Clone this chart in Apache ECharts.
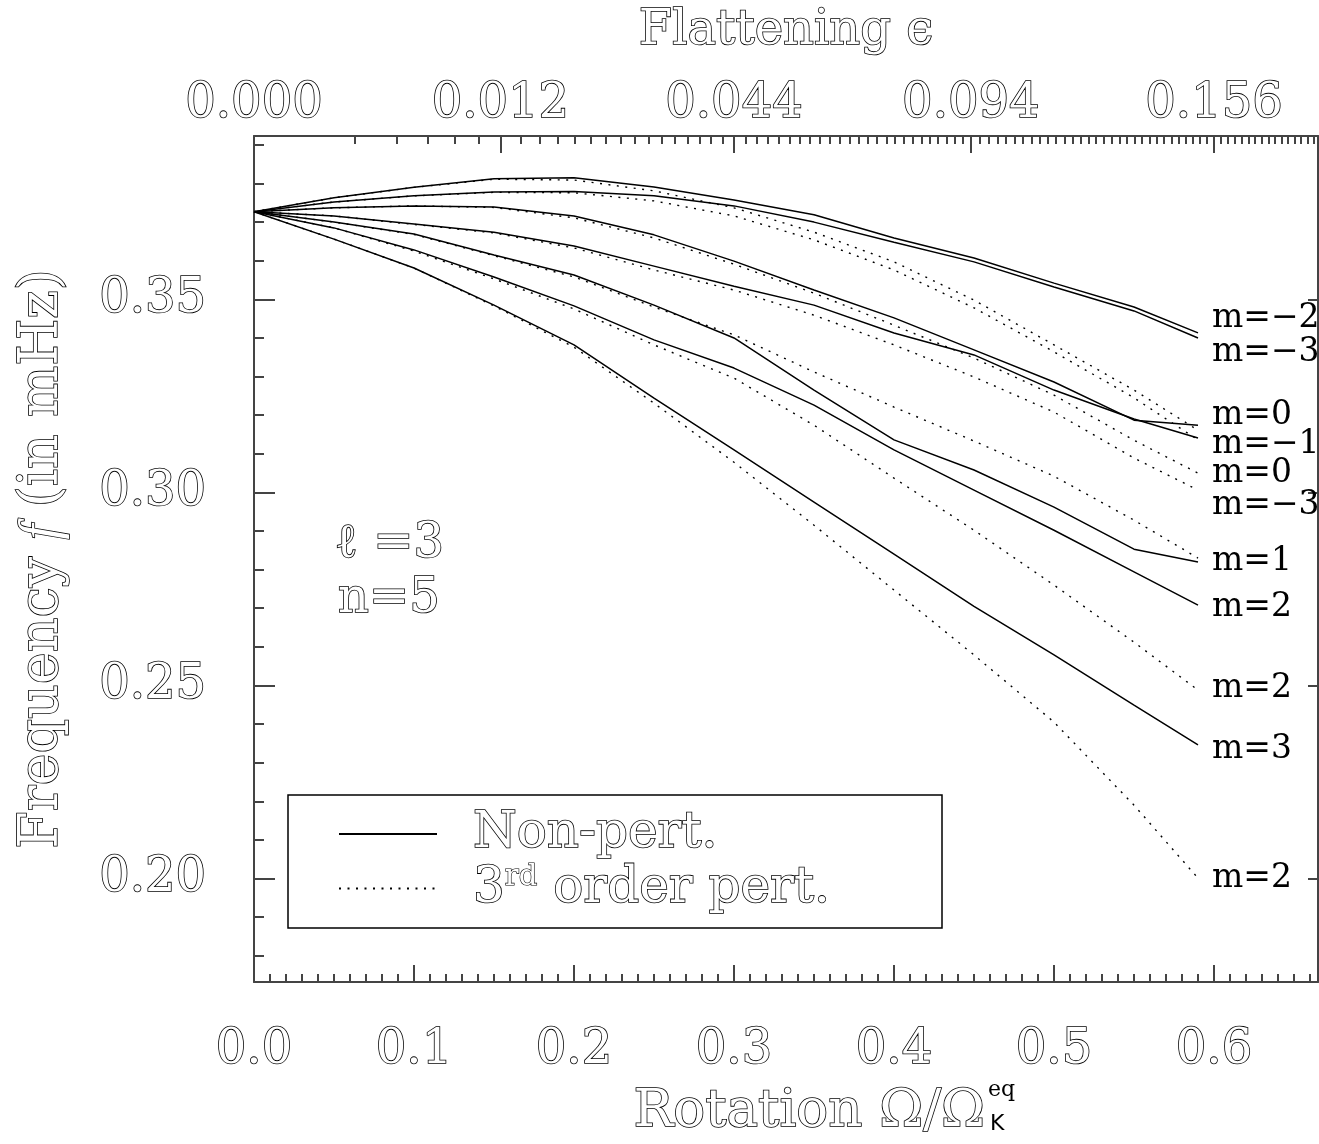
<!DOCTYPE html>
<html>
<head>
<meta charset="utf-8">
<title>Frequency vs rotation, l=3 n=5</title>
<script src="https://cdn.jsdelivr.net/npm/echarts@6/dist/echarts.min.js"></script>
<style>
  html, body { margin: 0; padding: 0; background: #fff; }
  #chart { width: 1319px; height: 1144px; }
</style>
</head>
<body>
<div id="chart"></div>
<script>
// Rotation rate Omega / Omega_K^eq at which the mode frequencies were computed
const rotation = [0, 0.05, 0.10, 0.15, 0.20, 0.25, 0.30, 0.35, 0.40, 0.45, 0.50, 0.55, 0.59];

// Non-perturbative frequencies (mHz)
const nonPert_mMinus2 = [0.3727, 0.3763, 0.3790, 0.3812, 0.3815, 0.3791, 0.3757, 0.3719, 0.3659, 0.3607, 0.3542, 0.3480, 0.3413];
const nonPert_mMinus3 = [0.3727, 0.3752, 0.3768, 0.3778, 0.3779, 0.3768, 0.3742, 0.3700, 0.3648, 0.3597, 0.3532, 0.3470, 0.3400];
const nonPert_m0      = [0.3727, 0.3737, 0.3742, 0.3739, 0.3716, 0.3667, 0.3599, 0.3524, 0.3452, 0.3369, 0.3286, 0.3187, 0.3174];
const nonPert_mMinus1 = [0.3727, 0.3716, 0.3695, 0.3674, 0.3638, 0.3586, 0.3534, 0.3485, 0.3413, 0.3356, 0.3265, 0.3190, 0.3141];
const nonPert_m1      = [0.3727, 0.3700, 0.3669, 0.3615, 0.3563, 0.3485, 0.3400, 0.3265, 0.3136, 0.3058, 0.2962, 0.2853, 0.2820];
const nonPert_m2      = [0.3727, 0.3685, 0.3628, 0.3558, 0.3483, 0.3395, 0.3322, 0.3226, 0.3110, 0.3006, 0.2902, 0.2794, 0.2708];
const nonPert_m3      = [0.3727, 0.3656, 0.3581, 0.3485, 0.3382, 0.3244, 0.3110, 0.2975, 0.2840, 0.2705, 0.2579, 0.2449, 0.2346];

// Third-order perturbative frequencies (mHz)
const pert_a = [0.3727, 0.3763, 0.3790, 0.3811, 0.3809, 0.3781, 0.3737, 0.3674, 0.3597, 0.3498, 0.3382, 0.3265, 0.3161];
const pert_b = [0.3727, 0.3752, 0.3768, 0.3777, 0.3776, 0.3755, 0.3716, 0.3654, 0.3576, 0.3478, 0.3364, 0.3245, 0.3136];
const pert_c = [0.3727, 0.3737, 0.3742, 0.3738, 0.3711, 0.3659, 0.3591, 0.3516, 0.3433, 0.3348, 0.3252, 0.3135, 0.3050];
const pert_d = [0.3727, 0.3716, 0.3694, 0.3672, 0.3633, 0.3576, 0.3524, 0.3459, 0.3382, 0.3299, 0.3208, 0.3089, 0.3006];
const pert_e = [0.3727, 0.3700, 0.3668, 0.3613, 0.3558, 0.3480, 0.3408, 0.3312, 0.3221, 0.3133, 0.3042, 0.2928, 0.2830];
const pert_f = [0.3727, 0.3685, 0.3625, 0.3553, 0.3475, 0.3382, 0.3296, 0.3174, 0.3037, 0.2902, 0.2760, 0.2612, 0.2488];
const pert_g = [0.3727, 0.3656, 0.3581, 0.3483, 0.3376, 0.3231, 0.3078, 0.2915, 0.2747, 0.2579, 0.2405, 0.2190, 0.2001];

// Axis ticks and labels
const rotMajorTicks = [0, 0.1, 0.2, 0.3, 0.4, 0.5, 0.6];
const freqMajorTicks = [0.20, 0.25, 0.30, 0.35];
const flatLabels = ['0.000', '0.012', '0.044', '0.094', '0.156'];
const flatLabelRotation = [0, 0.154, 0.300, 0.448, 0.600];
const flatMinorStep = 0.002;

const X_MAX = 0.665, Y_MIN = 0.1732, Y_MAX = 0.3923;

const rotMinorTicks = [];
for (let k = 0; k <= 66; k++) rotMinorTicks.push(+(k / 100).toFixed(2));
const freqMinorTicks = [];
for (let k = 18; k <= 39; k++) freqMinorTicks.push(+(k / 100).toFixed(2));

// flattening -> rotation, piecewise linear in sqrt(eps) through the labelled pairs
const flatValues = flatLabels.map(Number);
function flatToRotation(eps) {
  const s = Math.sqrt(eps);
  const sq = flatValues.map(Math.sqrt);
  let i = 0;
  while (i < sq.length - 2 && s > sq[i + 1]) i++;
  const t = (s - sq[i]) / (sq[i + 1] - sq[i]);
  return flatLabelRotation[i] + t * (flatLabelRotation[i + 1] - flatLabelRotation[i]);
}
const flatMinorTicks = [];
for (let k = 1; k <= 120; k++) {
  const r = flatToRotation(k * flatMinorStep);
  if (r <= X_MAX) flatMinorTicks.push(r);
}

const SERIF = 'DejaVu Serif';
const hollow = { fontFamily: SERIF, color: '#fff', textBorderColor: '#000', textBorderWidth: 1.6 };
const hollowG = { fill: '#fff', stroke: '#000', lineWidth: 1.6 };
const axisLineStyle = { color: '#444', width: 2 };
const tickStyle = { color: '#444', width: 2 };

const pairs = arr => rotation.map((r, i) => [r, arr[i]]);

function curveLabel(label, offset) {
  return label ? {
    show: true, formatter: label, offset: offset, distance: 14,
    fontFamily: SERIF, fontSize: 33, color: '#000'
  } : { show: false };
}
function solid(data, label, offset) {
  return {
    type: 'line', name: 'Non-pert.', data: pairs(data), symbol: 'none',
    itemStyle: { color: '#000' },
    lineStyle: { color: '#000', width: 1.5, type: 'solid' },
    endLabel: curveLabel(label, offset),
    silent: true, z: 3
  };
}
function dotted(data, label, offset) {
  return {
    type: 'line', name: '3rd order pert.', data: pairs(data), symbol: 'none',
    itemStyle: { color: '#000' },
    lineStyle: { color: '#000', width: 1.4, type: [2, 6.5] },
    endLabel: curveLabel(label, offset),
    silent: true, z: 2
  };
}

const baseAxis = {
  type: 'value', min: 0, max: X_MAX,
  splitLine: { show: false },
  axisLine: { show: true, onZero: false, lineStyle: axisLineStyle }
};

const option = {
  animation: false,
  backgroundColor: '#fff',
  grid: { left: 254, top: 136, width: 1064, height: 846, containLabel: false, outerBoundsMode: 'none' },
  legend: {
    data: ['Non-pert.', '3rd order pert.'],
    orient: 'vertical', left: 338, top: 808, padding: 0,
    itemWidth: 98, itemHeight: 14, itemGap: 2,
    selectedMode: false,
    itemStyle: { color: 'rgba(0,0,0,0)', borderWidth: 0, opacity: 0 },
    textStyle: Object.assign({ fontSize: 50, padding: [0, 0, 0, 31], lineHeight: 52,
      rich: {
        base: Object.assign({ fontSize: 50 }, hollow),
        sup: Object.assign({ fontSize: 29, verticalAlign: 'top', lineHeight: 52, padding: [0, 0, 22, 0] }, hollow, { textBorderWidth: 1.2 })
      } }, hollow),
    formatter: n => n === '3rd order pert.' ? '{base|3}{sup|rd}{base| order pert.}' : n
  },
  xAxis: [
    Object.assign({}, baseAxis, {
      position: 'bottom',
      axisTick: { show: true, inside: true, length: 17, customValues: rotMajorTicks, lineStyle: tickStyle },
      axisLabel: Object.assign({ customValues: rotMajorTicks, margin: 45, fontSize: 48,
        formatter: v => v.toFixed(1) }, hollow)
    }),
    Object.assign({}, baseAxis, {
      position: 'bottom', axisLine: { show: false, onZero: false },
      axisTick: { show: true, inside: true, length: 8, customValues: rotMinorTicks, lineStyle: tickStyle },
      axisLabel: { show: false }
    }),
    Object.assign({}, baseAxis, {
      position: 'top',
      name: 'Flattening ϵ', nameLocation: 'middle', nameGap: 80,
      nameTextStyle: Object.assign({ fontSize: 48 }, hollow),
      axisTick: { show: true, inside: true, length: 17, customValues: flatLabelRotation, lineStyle: tickStyle },
      axisLabel: Object.assign({ customValues: flatLabelRotation, margin: 7, fontSize: 48,
        formatter: v => flatLabels[flatLabelRotation.findIndex(r => Math.abs(r - v) < 1e-6)] || '' }, hollow)
    }),
    Object.assign({}, baseAxis, {
      position: 'top', axisLine: { show: false, onZero: false },
      axisTick: { show: true, inside: true, length: 8, customValues: flatMinorTicks, lineStyle: tickStyle },
      axisLabel: { show: false }
    })
  ],
  yAxis: [
    {
      type: 'value', position: 'left', min: Y_MIN, max: Y_MAX,
      splitLine: { show: false },
      axisLine: { show: true, onZero: false, lineStyle: axisLineStyle },
      axisTick: { show: true, inside: true, length: 21, customValues: freqMajorTicks, lineStyle: tickStyle },
      axisLabel: Object.assign({ customValues: freqMajorTicks, margin: 48, fontSize: 48,
        formatter: v => v.toFixed(2) }, hollow),
      name: 'Frequency {i|f} (in mHz)', nameLocation: 'middle', nameRotate: 90, nameGap: 184,
      nameTextStyle: Object.assign({ fontSize: 54,
        rich: { i: Object.assign({}, hollow, { fontSize: 54, fontStyle: 'italic', fontFamily: 'Liberation Serif' }) } }, hollow)
    },
    {
      type: 'value', position: 'left', min: Y_MIN, max: Y_MAX,
      splitLine: { show: false },
      axisLine: { show: false, onZero: false },
      axisTick: { show: true, inside: true, length: 10, customValues: freqMinorTicks, lineStyle: tickStyle },
      axisLabel: { show: false }
    },
    {
      type: 'value', position: 'right', min: Y_MIN, max: Y_MAX,
      splitLine: { show: false },
      axisLine: { show: true, onZero: false, lineStyle: axisLineStyle },
      axisTick: { show: true, inside: true, length: 10, customValues: freqMajorTicks, lineStyle: tickStyle },
      axisLabel: { show: false }
    }
  ],
  graphic: [
    { type: 'rect', shape: { x: 288, y: 795, width: 654, height: 133 },
      style: { fill: 'none', stroke: '#000', lineWidth: 1.5 }, z: 10 },
    { type: 'text', x: 335, y: 545,
      style: Object.assign({ text: 'ℓ =3', font: '48px "DejaVu Serif"', textAlign: 'left', textVerticalAlign: 'middle' }, hollowG) },
    { type: 'text', x: 338, y: 600,
      style: Object.assign({ text: 'n=5', font: '48px "DejaVu Serif"', textAlign: 'left', textVerticalAlign: 'middle' }, hollowG) },
    { type: 'text', x: 985, y: 1112,
      style: Object.assign({ text: 'Rotation Ω/Ω', font: '53px "DejaVu Serif"', textAlign: 'right', textVerticalAlign: 'middle' }, hollowG) },
    { type: 'text', x: 988, y: 1090,
      style: { text: 'eq', font: '22px "DejaVu Serif"', textAlign: 'left', textVerticalAlign: 'middle', fill: '#000' } },
    { type: 'text', x: 990, y: 1124,
      style: { text: 'K', font: '22px "DejaVu Sans"', textAlign: 'left', textVerticalAlign: 'middle', fill: '#000' } }
  ],
  series: [
    solid(nonPert_mMinus2, 'm=−2', [0, -15]),
    solid(nonPert_mMinus3, 'm=−3', [0, 14]),
    solid(nonPert_m0, 'm=0', [0, -10]),
    solid(nonPert_mMinus1, 'm=−1', [0, 6]),
    solid(nonPert_m1, 'm=1', [0, 0]),
    solid(nonPert_m2, 'm=2', [0, 2]),
    solid(nonPert_m3, 'm=3', [0, 5]),
    dotted(pert_a, null),
    dotted(pert_b, null),
    dotted(pert_c, 'm=0', [0, 0]),
    dotted(pert_d, 'm=−3', [0, 15]),
    dotted(pert_e, null),
    dotted(pert_f, 'm=2', [0, -2]),
    dotted(pert_g, 'm=2', [0, 0])
  ]
};

const chart = echarts.init(document.getElementById('chart'), null, { renderer: 'canvas' });
chart.setOption(option);
</script>
</body>
</html>
